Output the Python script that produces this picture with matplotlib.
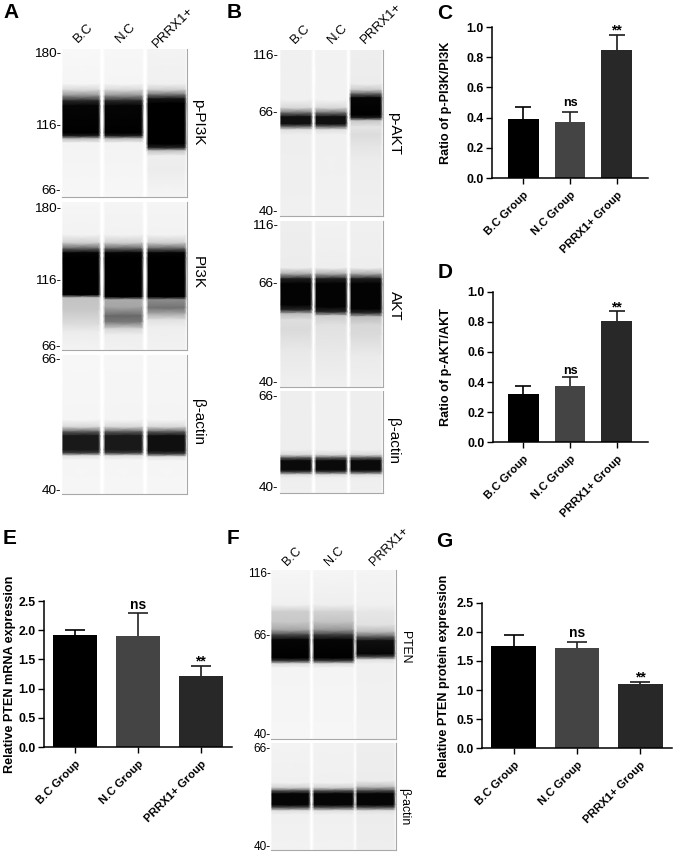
import numpy as np
import matplotlib
matplotlib.use('Agg')
import matplotlib.pyplot as plt

W = 677.0
H = 855.0
plt.rcParams['font.family'] = ['Liberation Sans', 'DejaVu Sans']

groups = ['B.C Group', 'N.C Group', 'PRRX1+ Group']
bar_colors = ['#000000', '#444444', '#282828']
err_colors = ['#000000', '#222222', '#1a1a1a']
lanes = ['B.C', 'N.C', 'PRRX1+']

# bar heights and top of the error bars
c_vals = [0.39, 0.37, 0.85]
c_tops = [0.47, 0.44, 0.95]
d_vals = [0.32, 0.375, 0.805]
d_tops = [0.375, 0.435, 0.87]
e_vals = [1.92, 1.90, 1.21]
e_tops = [2.00, 2.29, 1.39]
g_vals = [1.75, 1.72, 1.10]
g_tops = [1.94, 1.83, 1.14]

# blot lanes: (row, gray level) read down each lane
a1_lanes = [
    [(49, 248), (84, 245), (90, 215), (96, 140), (101, 40), (106, 5), (133, 0), (136, 30), (139, 190), (143, 243), (197, 247)],
    [(49, 247), (84, 245), (90, 215), (96, 140), (101, 40), (106, 5), (133, 0), (136, 30), (139, 190), (143, 243), (197, 247)],
    [(49, 243), (84, 240), (90, 205), (95, 110), (99, 20), (104, 0), (144, 0), (148, 40), (151, 195), (156, 238), (170, 236), (197, 245)],
]
a2_lanes = [
    [(202, 246), (235, 242), (243, 205), (249, 90), (253, 5), (258, 0), (295, 0), (298, 195), (310, 200), (325, 222), (332, 236), (350, 243)],
    [(202, 245), (235, 242), (243, 205), (249, 90), (253, 5), (258, 0), (297, 0), (300, 170), (307, 165), (316, 105), (322, 120), (329, 215), (335, 238), (350, 241)],
    [(202, 245), (235, 242), (243, 205), (249, 90), (253, 5), (258, 0), (297, 0), (300, 140), (308, 115), (314, 170), (320, 225), (327, 238), (350, 242)],
]
a3_lanes = [
    [(355, 247), (420, 245), (427, 215), (432, 90), (436, 25), (450, 25), (453, 60), (456, 225), (460, 245), (494, 246)],
    [(355, 246), (420, 244), (427, 215), (432, 90), (436, 25), (450, 25), (453, 60), (456, 225), (460, 245), (494, 246)],
    [(355, 246), (420, 244), (427, 215), (432, 90), (436, 15), (451, 15), (454, 60), (457, 225), (461, 245), (494, 246)],
]
b1_lanes = [
    [(50, 240), (100, 240), (108, 215), (113, 110), (117, 15), (124, 15), (127, 110), (130, 225), (135, 238), (216, 240)],
    [(50, 242), (100, 242), (108, 215), (113, 110), (117, 15), (124, 15), (127, 110), (130, 225), (135, 240), (216, 241)],
    [(50, 238), (84, 236), (90, 200), (94, 100), (98, 5), (115, 0), (118, 30), (121, 200), (127, 228), (135, 220), (145, 228), (160, 236), (216, 240)],
]
b2_lanes = [
    [(221, 238), (268, 236), (274, 170), (279, 30), (284, 3), (305, 3), (310, 40), (314, 190), (320, 222), (330, 218), (350, 232), (387, 240)],
    [(221, 242), (268, 238), (274, 170), (279, 30), (284, 3), (307, 3), (312, 40), (316, 205), (325, 225), (350, 232), (387, 240)],
    [(221, 240), (268, 238), (274, 170), (279, 30), (284, 3), (309, 3), (313, 40), (317, 190), (325, 215), (335, 218), (355, 234), (387, 240)],
]
b3_lanes = [
    [(391, 238), (450, 238), (455, 215), (458, 90), (461, 10), (470, 10), (472, 60), (475, 220), (478, 238), (493, 240)],
    [(391, 240), (450, 240), (455, 215), (458, 90), (461, 10), (470, 10), (472, 60), (475, 220), (478, 240), (493, 242)],
    [(391, 238), (450, 238), (455, 215), (458, 90), (461, 10), (470, 10), (472, 60), (475, 220), (478, 238), (493, 240)],
]
f1_lanes = [
    [(570, 246), (605, 240), (612, 205), (622, 200), (630, 165), (635, 70), (640, 5), (658, 0), (661, 60), (664, 220), (668, 244), (739, 246)],
    [(570, 245), (605, 238), (612, 210), (622, 195), (630, 150), (635, 60), (640, 5), (658, 0), (661, 60), (664, 220), (668, 244), (739, 246)],
    [(570, 244), (605, 240), (612, 230), (625, 225), (632, 185), (637, 90), (641, 15), (654, 5), (657, 70), (660, 225), (664, 240), (739, 242)],
]
f2_lanes = [
    [(743, 243), (783, 240), (788, 205), (791, 80), (794, 5), (805, 5), (808, 90), (811, 225), (815, 240), (850, 242)],
    [(743, 242), (783, 240), (788, 205), (791, 80), (794, 5), (805, 5), (808, 90), (811, 225), (815, 240), (850, 242)],
    [(743, 238), (781, 236), (787, 190), (791, 70), (794, 5), (805, 5), (808, 90), (811, 225), (815, 236), (850, 238)],
]


def put_text(x, y, s, **kw):
    kw.setdefault('ha', 'center')
    kw.setdefault('va', 'center')
    fig.text(x / W, 1 - y / H, s, **kw)


def draw_blot(x0, x1, y0, y1, lane_x, stops):
    ax = fig.add_axes([x0 / W, 1 - y1 / H, (x1 - x0) / W, (y1 - y0) / H])
    for (l, r), lane in zip(lane_x, stops):
        ys = np.array([p[0] for p in lane], dtype=float)
        gs = np.array([p[1] for p in lane], dtype=float)
        xs = [l, l + 1.5, r - 1.5, r]
        X, Y = np.meshgrid(xs, ys)
        edge = gs * 0.45 + 255 * 0.55
        C = np.column_stack([edge, gs, gs, edge])
        ax.pcolormesh(X, Y, C, shading='gouraud', cmap='gray', vmin=0, vmax=255)
    ax.set_xlim(x0, x1)
    ax.set_ylim(y1, y0)
    ax.set_xticks([])
    ax.set_yticks([])
    ax.spines['top'].set_visible(False)
    ax.spines['left'].set_visible(False)
    ax.spines['right'].set_color('#a8a8a8')
    ax.spines['bottom'].set_color('#a8a8a8')
    return ax


def draw_bars(x0, x1, y0, y1, vals, tops, ymax, step, ylabel, label_x, hw, ns_size, ns_pad, star_pad, xlim, cap):
    ax = fig.add_axes([x0 / W, 1 - y1 / H, (x1 - x0) / W, (y1 - y0) / H])
    pos = np.arange(3)
    err = np.array(tops) - np.array(vals)
    for i in pos:
        ax.bar(i, vals[i], width=hw, color=bar_colors[i])
        eb = ax.errorbar(i, vals[i], yerr=[[0], [err[i]]], color=err_colors[i], capsize=cap,
                         elinewidth=1.2, capthick=1.2, clip_on=False)
        eb[1][0].set_visible(False)
    ax.set_xlim(*xlim)
    ax.set_ylim(0, ymax)
    ax.set_yticks(np.arange(0, ymax + 0.001, step))
    ax.set_yticklabels(['%.1f' % t for t in np.arange(0, ymax + 0.001, step)],
                       fontweight='bold', fontsize=8.8)
    ax.set_xticks(pos)
    ax.set_xticklabels(groups, rotation=45, ha='right', rotation_mode='anchor',
                       fontweight='bold', fontsize=8.2)
    ax.tick_params(axis='y', width=1.0, length=4.5, pad=1.5)
    ax.tick_params(axis='x', width=1.0, length=4.5, pad=4)
    ax.spines['top'].set_visible(False)
    ax.spines['right'].set_visible(False)
    ax.spines['left'].set_linewidth(1.1)
    ax.spines['bottom'].set_linewidth(1.1)
    ax.set_ylabel(ylabel, fontweight='bold', fontsize=9.1, va='center')
    ax.yaxis.set_label_coords((label_x - x0) / (x1 - x0), 0.5)
    ax.annotate('ns', (1, tops[1]), xytext=(0, ns_pad), textcoords='offset points',
                ha='center', va='bottom', fontweight='bold', fontsize=ns_size, annotation_clip=False)
    ax.annotate('**', (2, tops[2]), xytext=(0, star_pad), textcoords='offset points',
                ha='center', va='bottom', fontweight='bold', fontsize=10, annotation_clip=False)
    return ax


fig = plt.figure(figsize=(W / 100, H / 100), dpi=100)

# blots
a_x = [(62, 100), (104, 143), (147, 186)]
b_x = [(280, 312), (315, 347), (350, 382)]
f_x = [(271, 310), (313, 354), (356, 395)]
draw_blot(62, 187, 49, 197, a_x, a1_lanes)
draw_blot(62, 187, 202, 350, a_x, a2_lanes)
draw_blot(62, 187, 355, 494, a_x, a3_lanes)
draw_blot(280, 383, 50, 216, b_x, b1_lanes)
draw_blot(280, 383, 221, 387, b_x, b2_lanes)
draw_blot(280, 383, 391, 493, b_x, b3_lanes)
draw_blot(271, 396, 570, 739, f_x, f1_lanes)
draw_blot(271, 396, 743, 850, f_x, f2_lanes)

# mass labels
for y, s in [(54, '180-'), (126, '116-'), (191, '66-'), (209, '180-'), (281, '116-'),
             (347, '66-'), (360, '66-'), (491, '40-')]:
    put_text(61, y, s, ha='right', fontsize=9.7)
for y, s in [(56, '116-'), (113, '66-'), (212, '40-'), (226, '116-'), (284, '66-'),
             (383, '40-'), (397, '66-'), (488, '40-')]:
    put_text(278, y, s, ha='right', fontsize=9.7)
for y, s in [(574, '116-'), (636, '66-'), (735, '40-'), (749, '66-'), (847, '40-')]:
    put_text(271, y, s, ha='right', fontsize=8.5)

# lane labels
for x, y, s in zip([80, 122, 159], [45, 45, 50], lanes):
    put_text(x, y, s, ha='left', va='bottom', rotation=45, rotation_mode='anchor', fontsize=9.5)
for x, y, s in zip([297, 334, 367], [46, 46, 46], lanes):
    put_text(x, y, s, ha='left', va='bottom', rotation=45, rotation_mode='anchor', fontsize=9.5)
for x, y, s in zip([289, 331, 376], [568, 568, 568], lanes):
    put_text(x, y, s, ha='left', va='bottom', rotation=45, rotation_mode='anchor', fontsize=9)

# protein names
for x, y, s, fs in [(198, 122, 'p-PI3K', 11), (198, 273, 'PI3K', 11), (198, 422, 'β-actin', 11),
                    (394, 134, 'p-AKT', 11), (395, 306, 'AKT', 11), (393, 441, 'β-actin', 11),
                    (405, 647, 'PTEN', 8.8), (404, 807, 'β-actin', 8.8)]:
    put_text(x, y, s, rotation=-90, fontsize=fs)

# panel letters
for x, y, s in [(11, 13, 'A'), (234, 13, 'B'), (444.5, 13.5, 'C'), (445.5, 272, 'D'),
                (9.5, 539, 'E'), (233, 539, 'F'), (444.5, 541, 'G')]:
    put_text(x, y, s, fontsize=15, fontweight='bold')

# bar charts
draw_bars(492, 648, 27, 178, c_vals, c_tops, 1.0, 0.2, 'Ratio of p-PI3K/PI3K', 446,
          0.66, 9, 2, -2, (-0.67, 2.67), 5.8)
draw_bars(493, 648, 291.7, 442.3, d_vals, d_tops, 1.0, 0.2, 'Ratio of p-AKT/AKT', 446,
          0.66, 9, 0, -2, (-0.649, 2.67), 5.8)
draw_bars(43.7, 232, 601, 747, e_vals, e_tops, 2.5, 0.5, 'Relative PTEN mRNA expression', 10,
          0.7, 10, 1, -2, (-0.5, 2.5), 7.5)
draw_bars(482, 672, 602.7, 748.3, g_vals, g_tops, 2.5, 0.5, 'Relative PTEN protein expression', 444,
          0.7, 10, 1, -2, (-0.5, 2.5), 7.5)

fig.savefig('out.png', dpi=100)
